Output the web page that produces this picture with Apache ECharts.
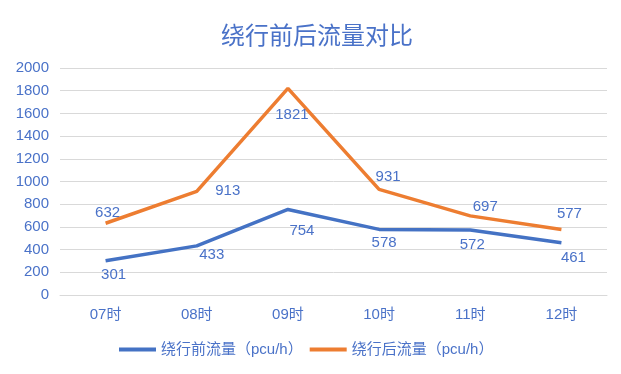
<!DOCTYPE html>
<html>
<head>
<meta charset="utf-8">
<script src="https://cdn.jsdelivr.net/npm/echarts@6/dist/echarts.min.js"></script>
<style>html,body{margin:0;padding:0;background:#fff;}#c{width:621px;height:374px;}</style>
</head>
<body>
<div id="c"></div>
<script>
const categories = ['07时', '08时', '09时', '10时', '11时', '12时'];
const beforeValues = [301, 433, 754, 578, 572, 461];
const afterValues = [632, 913, 1821, 931, 697, 577];
const yTicks = { min: 0, max: 2000, interval: 200 };
const seriesNames = ['绕行前流量（pcu/h）', '绕行后流量（pcu/h）'];

// label offsets (style only)
const beforeLabelOffsets = [[8, 14], [15, 9], [14, 21], [5, 13], [2, 15], [12, 15]];
const afterLabelOffsets = [[2, -10], [31, -1], [4, 27], [9, -12], [15, -9], [8, -16]];

const FONT = '"Liberation Sans", "Noto Sans CJK SC", sans-serif';
const TXT = '#4a72c8';

function buildData(vals, offs) {
  return vals.map((v, i) => ({ value: v, label: { offset: offs[i] } }));
}

const chart = echarts.init(document.getElementById('c'), null, { renderer: 'canvas' });
chart.setOption({
  backgroundColor: '#ffffff',
  animation: false,
  textStyle: { fontFamily: FONT },
  title: {
    text: '绕行前后流量对比',
    left: 216,
    top: 20,
    textStyle: { fontFamily: FONT, fontSize: 24, fontWeight: 'normal', color: '#4a72c8' }
  },
  legend: {
    bottom: 12,
    left: 114,
    itemWidth: 37,
    itemHeight: 4,
    itemGap: 7,
    icon: 'rect',
    textStyle: { fontFamily: FONT, fontSize: 15, color: TXT, padding: [0, 0, 0, 0] },
    data: seriesNames
  },
  grid: { left: 60, right: 14, top: 68, bottom: 79, containLabel: false },
  xAxis: {
    type: 'category',
    data: categories,
    boundaryGap: true,
    axisLine: { show: true, lineStyle: { color: '#d9d9d9', width: 1 } },
    axisTick: { show: false },
    axisLabel: { color: TXT, fontSize: 15, margin: 12, fontFamily: FONT }
  },
  yAxis: {
    type: 'value',
    min: yTicks.min,
    max: yTicks.max,
    interval: yTicks.interval,
    axisLine: { show: false },
    axisTick: { show: false },
    axisLabel: { color: TXT, fontSize: 15, margin: 11, fontFamily: FONT, formatter: v => String(v) },
    splitLine: { lineStyle: { color: '#d9d9d9', width: 1 } }
  },
  series: [
    {
      name: seriesNames[0],
      type: 'line',
      data: buildData(beforeValues, beforeLabelOffsets),
      symbol: 'circle',
      symbolSize: 0,
      showSymbol: true,
      lineStyle: { color: '#4472c4', width: 3.5 },
      itemStyle: { color: '#4472c4' },
      label: { show: true, position: 'inside', color: TXT, fontSize: 15, fontFamily: FONT }
    },
    {
      name: seriesNames[1],
      type: 'line',
      data: buildData(afterValues, afterLabelOffsets),
      symbol: 'circle',
      symbolSize: 0,
      showSymbol: true,
      lineStyle: { color: '#ed7d31', width: 3.5 },
      itemStyle: { color: '#ed7d31' },
      label: { show: true, position: 'inside', color: TXT, fontSize: 15, fontFamily: FONT }
    }
  ]
});
</script>
</body>
</html>
